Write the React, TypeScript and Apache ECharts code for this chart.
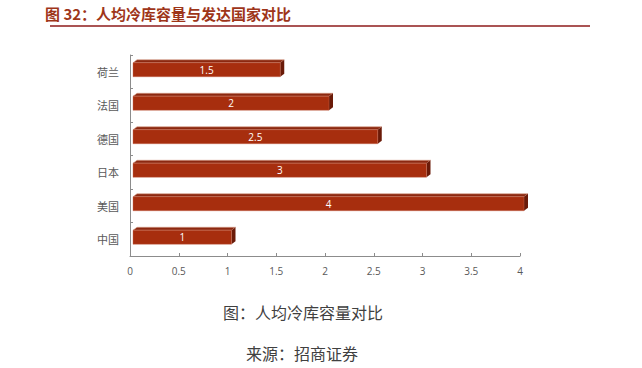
import React, { useEffect, useRef } from "react";
import * as echarts from "echarts";

const categories = ["中国", "美国", "日本", "德国", "法国", "荷兰"];
const values = [1, 4, 3, 2.5, 2, 1.5];
const xTicks = [0, 0.5, 1, 1.5, 2, 2.5, 3, 3.5, 4];

const titleText = "图 32：人均冷库容量与发达国家对比";
const captionText = "图：人均冷库容量对比";
const sourceText = "来源：招商证券";

export default function App() {
  const ref = useRef<HTMLDivElement>(null);
  useEffect(() => {
    const chart = echarts.init(ref.current!, null, { renderer: "svg" });
    const renderItem = (params: any, api: any) => {
      const v = api.value(0);
      const idx = api.value(1);
      const p0 = api.coord([0, idx]);
      const p1 = api.coord([v, idx]);
      const c = p0[1];
      const x0 = p0[0] + 3;
      const x1 = p1[0] + 4;
      const d = 4;
      const top = c - 9;
      const bot = c + 5;
      return {
        type: "group",
        children: [
          {
            type: "polygon",
            shape: { points: [[x0, top], [x0 + d, top - 3], [x1 + d, top - 3], [x1, top]] },
            style: { fill: "#8c2810", stroke: "#d9a08a", lineWidth: 0.6 },
          },
          {
            type: "polygon",
            shape: { points: [[x1, top], [x1 + d, top - 3], [x1 + d, bot - 3], [x1, bot]] },
            style: { fill: "#6a1a08" },
          },
          {
            type: "rect",
            shape: { x: x0, y: top, width: x1 - x0, height: bot - top },
            style: { fill: "#a72e0e", stroke: "#c86a50", lineWidth: 0.4 },
          },
          {
            type: "text",
            style: {
              x: (x0 + x1) / 2,
              y: (top + bot) / 2,
              text: String(v),
              fill: "#ffffff",
              fontSize: 10,
              fontFamily: "Open Sans, sans-serif",
              align: "center",
              verticalAlign: "middle",
            },
          },
        ],
      };
    };
    chart.setOption({
      animation: false,
      backgroundColor: "#ffffff",
      grid: { left: 130, right: 122, top: 55, bottom: 112 },
      xAxis: {
        type: "value",
        min: xTicks[0],
        max: xTicks[xTicks.length - 1],
        interval: 0.5,
        splitLine: { show: false },
        axisLine: { show: true, lineStyle: { color: "#8c8c8c", width: 1 } },
        axisTick: { show: true, inside: true, length: 3, lineStyle: { color: "#8c8c8c" } },
        axisLabel: { color: "#595959", fontSize: 10, margin: 10, fontFamily: "Open Sans, sans-serif" },
      },
      yAxis: {
        type: "category",
        data: categories,
        axisLine: { show: true, lineStyle: { color: "#8c8c8c", width: 1 } },
        axisTick: { show: true, inside: true, length: 3, lineStyle: { color: "#8c8c8c" } },
        axisLabel: { color: "#595959", fontSize: 11, margin: 11, fontFamily: "Noto Sans CJK SC, sans-serif" },
      },
      series: [
        {
          type: "custom",
          renderItem,
          encode: { x: 0, y: 1 },
          data: values.map((v, i) => [v, i]),
        },
      ],
      graphic: [
        {
          type: "text",
          left: 45,
          top: 6,
          style: {
            text: titleText,
            fill: "#9e3519",
            fontSize: 15,
            fontWeight: "bold",
            fontFamily: "Noto Sans CJK SC, sans-serif",
          },
        },
        {
          type: "line",
          shape: { x1: 50, y1: 26, x2: 590, y2: 26 },
          style: { stroke: "#8e1b1b", lineWidth: 1.5 },
        },
        {
          type: "text",
          x: 303,
          y: 312,
          style: {
            text: captionText,
            fill: "#404040",
            fontSize: 16,
            fontFamily: "Noto Sans CJK SC, sans-serif",
            align: "center",
            verticalAlign: "middle",
          },
        },
        {
          type: "text",
          x: 302,
          y: 353,
          style: {
            text: sourceText,
            fill: "#404040",
            fontSize: 16,
            fontFamily: "Noto Sans CJK SC, sans-serif",
            align: "center",
            verticalAlign: "middle",
          },
        },
      ],
    });
    return () => chart.dispose();
  }, []);
  return <div ref={ref} style={{ width: 642, height: 368, position: "absolute", left: 0, top: 0 }} />;
}
